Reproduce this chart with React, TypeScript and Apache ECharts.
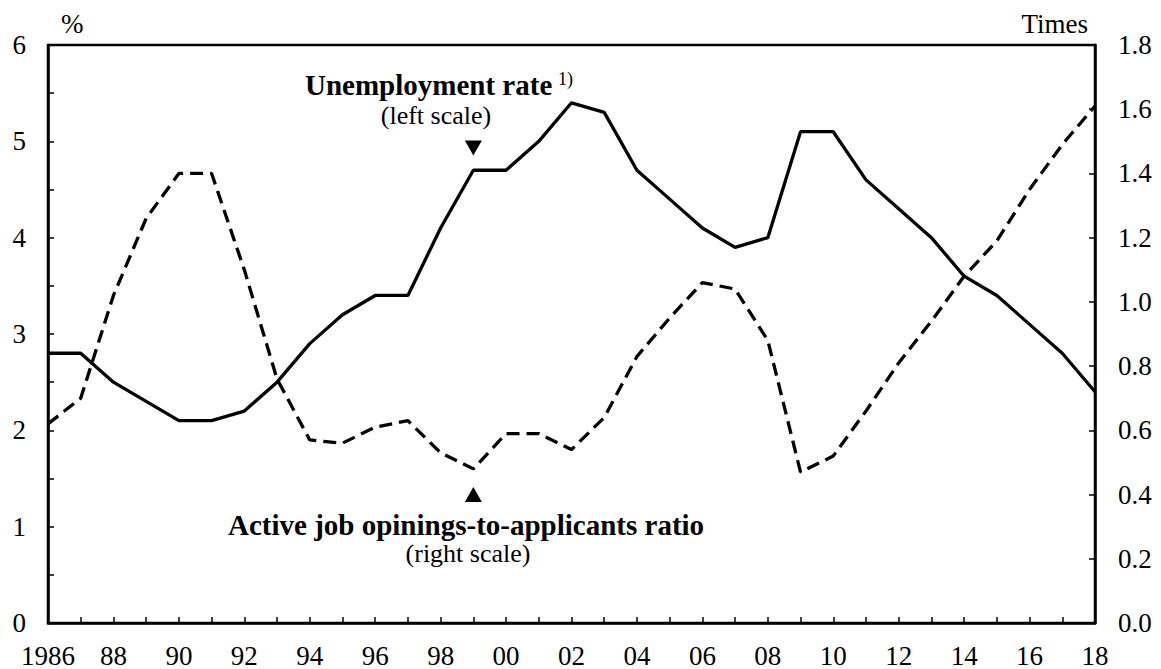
import React, { useEffect, useRef } from "react";
import * as echarts from "echarts";

const years = [
  "1986", "87", "88", "89", "90", "91", "92", "93", "94", "95", "96", "97",
  "98", "99", "00", "01", "02", "03", "04", "05", "06", "07", "08", "09",
  "10", "11", "12", "13", "14", "15", "16", "17", "18",
];

// Unemployment rate (%), left scale
const unemployment = [
  2.8, 2.8, 2.5, 2.3, 2.1, 2.1, 2.2, 2.5, 2.9, 3.2, 3.4, 3.4,
  4.1, 4.7, 4.7, 5.0, 5.4, 5.3, 4.7, 4.4, 4.1, 3.9, 4.0, 5.1,
  5.1, 4.6, 4.3, 4.0, 3.6, 3.4, 3.1, 2.8, 2.4,
];

// Active job openings-to-applicants ratio (times), right scale
const jobRatio = [
  0.62, 0.70, 1.02, 1.26, 1.40, 1.40, 1.10, 0.76, 0.57, 0.56, 0.61, 0.63,
  0.53, 0.48, 0.59, 0.59, 0.54, 0.64, 0.83, 0.95, 1.06, 1.04, 0.88, 0.47,
  0.52, 0.66, 0.81, 0.94, 1.08, 1.19, 1.35, 1.49, 1.61,
];

// Annotation arrow anchors (category, value)
const downArrowAt: [string, number] = ["99", 4.93];
const upArrowAt: [string, number] = ["99", 0.4];

const FONT = '"Liberation Serif", "Times New Roman", serif';

export default function App() {
  const ref = useRef<HTMLDivElement>(null);

  useEffect(() => {
    if (!ref.current) return;
    const chart = echarts.init(ref.current, null, { renderer: "svg" });
    const axisLine = { show: true, lineStyle: { color: "#000", width: 2.5 } };
    const tick = {
      show: true,
      inside: true,
      length: 6,
      lineStyle: { color: "#000", width: 1.5 },
    };
    const option: any = {
      animation: false,
      backgroundColor: "#fff",
      textStyle: { fontFamily: FONT, color: "#000" },
      grid: {
        left: 48,
        right: 66,
        top: 45,
        bottom: 46,
        show: true,
        borderColor: "#000",
        borderWidth: 2.5,
        backgroundColor: "transparent",
      },
      xAxis: {
        type: "category",
        data: years,
        boundaryGap: false,
        axisLine,
        axisTick: { ...tick, interval: 0 },
        axisLabel: {
          interval: 1,
          margin: 19,
          fontSize: 27,
          fontFamily: FONT,
          color: "#000",
        },
        splitLine: { show: false },
      },
      yAxis: [
        {
          type: "value",
          min: 0,
          max: 6,
          interval: 0.5,
          position: "left",
          name: "%",
          nameLocation: "end",
          nameGap: 8,
          nameTextStyle: {
            fontSize: 27,
            fontFamily: FONT,
            color: "#000",
            align: "left",
            padding: [0, 0, 0, 13],
          },
          axisLine,
          axisTick: tick,
          axisLabel: {
            margin: 22,
            fontSize: 27,
            fontFamily: FONT,
            color: "#000",
            formatter: (v: number) =>
              Math.abs(v - Math.round(v)) < 1e-9 ? String(Math.round(v)) : "",
          },
          splitLine: { show: false },
        },
        {
          type: "value",
          min: 0,
          max: 1.8,
          interval: 0.2,
          position: "right",
          name: "Times",
          nameLocation: "end",
          nameGap: 8,
          nameTextStyle: {
            fontSize: 27,
            fontFamily: FONT,
            color: "#000",
            align: "right",
            padding: [0, 7, 0, 0],
          },
          axisLine,
          axisTick: tick,
          axisLabel: {
            margin: 23,
            fontSize: 27,
            fontFamily: FONT,
            color: "#000",
            formatter: (v: number) => v.toFixed(1),
          },
          splitLine: { show: false },
        },
      ],
      series: [
        {
          name: "Unemployment rate",
          type: "line",
          data: unemployment,
          yAxisIndex: 0,
          showSymbol: false,
          symbol: "none",
          lineStyle: { color: "#000", width: 3.3, type: "solid" },
          z: 3,
          markPoint: {
            symbol: "triangle",
            symbolRotate: 180,
            symbolSize: [17, 15],
            label: { show: false },
            itemStyle: { color: "#000" },
            data: [{ coord: downArrowAt }],
          },
        },
        {
          name: "Active job openings-to-applicants ratio",
          type: "line",
          data: jobRatio,
          yAxisIndex: 1,
          showSymbol: false,
          symbol: "none",
          lineStyle: { color: "#000", width: 3.3, type: [13, 7] },
          z: 3,
          markPoint: {
            symbol: "triangle",
            symbolSize: [17, 15],
            label: { show: false },
            itemStyle: { color: "#000" },
            data: [{ coord: upArrowAt }],
          },
        },
      ],
      graphic: [
        {
          type: "text",
          x: 305,
          y: 85,
          style: {
            text: "Unemployment rate",
            font: `bold 29px ${FONT}`,
            fill: "#000",
            align: "left",
            verticalAlign: "middle",
          },
        },
        {
          type: "text",
          x: 558,
          y: 79,
          style: {
            text: "1)",
            font: `18px ${FONT}`,
            fill: "#000",
            align: "left",
            verticalAlign: "middle",
          },
        },
        {
          type: "text",
          x: 436,
          y: 115,
          style: {
            text: "(left scale)",
            font: `26px ${FONT}`,
            fill: "#000",
            align: "center",
            verticalAlign: "middle",
          },
        },
        {
          type: "text",
          x: 228,
          y: 525,
          style: {
            text: "Active job opinings-to-applicants ratio",
            font: `bold 29px ${FONT}`,
            fill: "#000",
            align: "left",
            verticalAlign: "middle",
          },
        },
        {
          type: "text",
          x: 468,
          y: 553,
          style: {
            text: "(right scale)",
            font: `26px ${FONT}`,
            fill: "#000",
            align: "center",
            verticalAlign: "middle",
          },
        },
      ],
    };
    chart.setOption(option);
    return () => chart.dispose();
  }, []);

  return (
    <div
      ref={ref}
      style={{ position: "fixed", left: 0, top: 0, width: 1161, height: 669, background: "#fff" }}
    />
  );
}
